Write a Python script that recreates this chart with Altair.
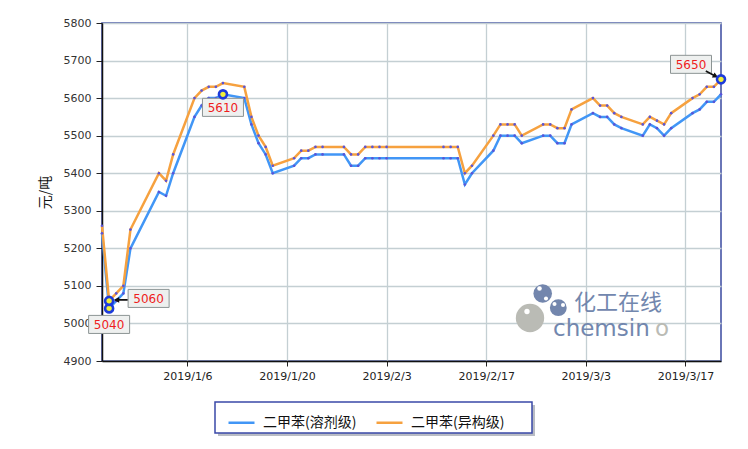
import altair as alt
import pandas as pd

# ---------------- data ----------------
dates = [
    "2018-12-25", "2018-12-26", "2018-12-27", "2018-12-28", "2018-12-29",
    "2019-01-02", "2019-01-03", "2019-01-04",
    "2019-01-07", "2019-01-08", "2019-01-09", "2019-01-10", "2019-01-11",
    "2019-01-14", "2019-01-15", "2019-01-16", "2019-01-17", "2019-01-18",
    "2019-01-21", "2019-01-22", "2019-01-23", "2019-01-24", "2019-01-25",
    "2019-01-28", "2019-01-29", "2019-01-30", "2019-01-31", "2019-02-01",
    "2019-02-02", "2019-02-03",
    "2019-02-11", "2019-02-12", "2019-02-13", "2019-02-14", "2019-02-15",
    "2019-02-18", "2019-02-19", "2019-02-20", "2019-02-21", "2019-02-22",
    "2019-02-25", "2019-02-26", "2019-02-27", "2019-02-28", "2019-03-01",
    "2019-03-04", "2019-03-05", "2019-03-06", "2019-03-07", "2019-03-08",
    "2019-03-11", "2019-03-12", "2019-03-13", "2019-03-14", "2019-03-15",
    "2019-03-18", "2019-03-19", "2019-03-20", "2019-03-21", "2019-03-22",
]
solvent = [
    5240, 5040, 5060, 5080, 5200,
    5350, 5340, 5400,
    5550, 5580, 5600, 5600, 5610,
    5600, 5530, 5480, 5450, 5400,
    5420, 5440, 5440, 5450, 5450,
    5450, 5420, 5420, 5440, 5440,
    5440, 5440,
    5440, 5440, 5440, 5370, 5400,
    5460, 5500, 5500, 5500, 5480,
    5500, 5500, 5480, 5480, 5530,
    5560, 5550, 5550, 5530, 5520,
    5500, 5530, 5520, 5500, 5520,
    5560, 5570, 5590, 5590, 5610,
]
isomer = [
    5260, 5060, 5080, 5100, 5250,
    5400, 5380, 5450,
    5600, 5620, 5630, 5630, 5640,
    5630, 5550, 5500, 5470, 5420,
    5440, 5460, 5460, 5470, 5470,
    5470, 5450, 5450, 5470, 5470,
    5470, 5470,
    5470, 5470, 5470, 5400, 5420,
    5500, 5530, 5530, 5530, 5500,
    5530, 5530, 5520, 5520, 5570,
    5600, 5580, 5580, 5560, 5550,
    5530, 5550, 5540, 5530, 5560,
    5600, 5610, 5630, 5630, 5650,
]
series_names = ["二甲苯(溶剂级)", "二甲苯(异构级)"]
series_colors = ["#4196f6", "#f6a13f"]

ann_dates = ["2018-12-26", "2018-12-26", "2019-01-11", "2019-03-22"]
ann_values = [5040, 5060, 5610, 5650]
ann_labels = ["5040", "5060", "5610", "5650"]

y_ticks = [4900, 5000, 5100, 5200, 5300, 5400, 5500, 5600, 5700, 5800]
x_ticks = [(2019, 1, 6), (2019, 1, 20), (2019, 2, 3), (2019, 2, 17), (2019, 3, 3), (2019, 3, 17)]

# ---------------- styles ----------------
W, H = 619, 338
ann_box_offsets = [(0, 16), (39.5, -2.5), (0, 13), (-30, -15)]
BOX = "M-1,-0.44L1,-0.44L1,0.44L-1,0.44Z"
ARROW = "M-1,0L-0.2,-0.42L-0.2,-0.12L1,-0.12L1,0.12L-0.2,0.12L-0.2,0.42Z"
arrow_specs = {1: (11.5, -1, 0), 3: (-9, -5, 208)}

n = len(dates)
df = pd.DataFrame({
    "date": dates * 2,
    "value": solvent + isomer,
    "series": [series_names[0]] * n + [series_names[1]] * n,
})
ann = pd.DataFrame({"date": ann_dates, "value": ann_values, "label": ann_labels})

def dt(y, m, d):
    return alt.DateTime(year=y, month=m, date=d, utc=True)

x_enc = alt.X(
    "date:T",
    scale=alt.Scale(type="utc", domain=[dt(2018, 12, 25), dt(2019, 3, 22)], nice=False),
    axis=alt.Axis(
        title=None,
        values=[dt(*t) for t in x_ticks],
        labelExpr="utcFormat(datum.value, '%Y/%-m/%-d')",
        labelFont="DejaVu Sans", labelFontSize=11, labelColor="#222",
        labelPadding=4, tickSize=5, tickColor="#222",
        domainColor="#111", domainWidth=1.5,
        gridColor="#c4cfd3", gridWidth=1.3,
    ),
)
y_enc = alt.Y(
    "value:Q",
    scale=alt.Scale(domain=[4900, 5800], nice=False, zero=False),
    axis=alt.Axis(
        values=y_ticks, tickCount=10, format="d", labelOverlap=False,
        title="元/吨", titleFont="Noto Sans CJK SC", titleFontSize=14,
        titleFontWeight="normal", titleColor="#111", titlePadding=11,
        labelFont="DejaVu Sans", labelFontSize=11, labelColor="#333",
        labelPadding=5, tickSize=6, tickColor="#222",
        domainColor="#111", domainWidth=1.5,
        gridColor="#c4cfd3", gridWidth=1.3,
    ),
)

base = alt.Chart(df)
lines = base.mark_line(strokeWidth=2.5).encode(
    x=x_enc, y=y_enc,
    color=alt.Color(
        "series:N",
        scale=alt.Scale(domain=series_names, range=series_colors),
        sort=series_names,
        legend=alt.Legend(
            title=None, orient="none", legendX=123, legendY=383,
            direction="horizontal", symbolType="stroke", symbolSize=676,
            symbolStrokeWidth=2.5, labelFont="Noto Sans CJK SC", labelFontSize=14,
            labelColor="#111", labelOffset=7, columnPadding=14,
            padding=2,
        ),
    ),
)
dots = base.mark_point(filled=True, size=7, color="#5a54d8", opacity=1).encode(
    x=x_enc, y=y_enc, detail="series:N"
)

layers = [lines, dots]
for i in range(len(ann_labels)):
    one = alt.Chart(ann.iloc[[i]])
    dx, dy = ann_box_offsets[i]
    w = 41
    layers.append(one.mark_point(
        shape=BOX, size=w * w, filled=True, fill="#eef0ef", fillOpacity=1,
        stroke="#8c9494", strokeWidth=1, opacity=1, xOffset=dx, yOffset=dy,
    ).encode(x=x_enc, y=y_enc))
    layers.append(one.mark_text(
        dx=dx, dy=dy + 0.5, color="#ee1d1d", font="DejaVu Sans", fontSize=12,
        align="center", baseline="middle",
    ).encode(x=x_enc, y=y_enc, text="label:N"))
    if i in arrow_specs:
        ax, ay, ang = arrow_specs[i]
        layers.append(one.mark_point(
            shape=ARROW, size=196, filled=True, fill="#111", opacity=1,
            xOffset=ax, yOffset=ay, angle=ang,
        ).encode(x=x_enc, y=y_enc))

markers = alt.Chart(ann).mark_point(
    shape="circle", size=64, filled=True, fill="#f0f03a", fillOpacity=1,
    stroke="#1d3bdb", strokeWidth=2.6, opacity=1,
).encode(x=x_enc, y=y_enc)
layers.append(markers)

# decorations: watermark and legend frame (pixel positions, plot-relative)
deco = pd.DataFrame({"k": [0]})
OX, OY = 102, 23

def wm_circle(cx, cy, r, color):
    return alt.Chart(deco).mark_point(
        shape="circle", filled=True, fill=color, fillOpacity=1, opacity=1,
        size=3.1416 * r * r,
    ).encode(x=alt.value(cx - OX), y=alt.value(cy - OY))

def wm_text(tx, ty, txt, color, size, font):
    return alt.Chart(deco).mark_text(
        text=txt, color=color, fontSize=size, font=font, align="left", baseline="alphabetic",
    ).encode(x=alt.value(tx - OX), y=alt.value(ty - OY))

def frame(x1, y1, x2, y2, fill, stroke=None, sw=0):
    kw = dict(fill=fill, opacity=1)
    if stroke:
        kw.update(stroke=stroke, strokeWidth=sw)
    return alt.Chart(deco).mark_rect(**kw).encode(
        x=alt.value(x1 - OX), x2=alt.value(x2 - OX),
        y=alt.value(y1 - OY), y2=alt.value(y2 - OY),
    )

water = [
    wm_circle(530, 318, 16, "#babbb5"),
    wm_circle(542.7, 293.5, 10.5, "#7386ad"),
    wm_circle(558.3, 307.7, 9.5, "#7386ad"),
    wm_circle(527, 311.5, 3, "#ffffff"),
    wm_circle(539.5, 288.5, 2.6, "#ffffff"),
    wm_circle(546, 298.5, 2.3, "#ffffff"),
    wm_circle(554.5, 304, 2.3, "#ffffff"),
    wm_circle(563, 305, 2.3, "#ffffff"),
    wm_text(574, 310, "化工在线", "#7287ae", 22, "Noto Sans CJK SC"),
    wm_text(553, 336, "chemsin", "#7287ae", 23, "DejaVu Sans"),
    wm_text(655, 336, "o", "#babbb5", 23, "DejaVu Sans"),
]
legend_box = [
    frame(218, 405, 535, 436, "#b9bcc4"),
    frame(215, 402, 532, 433, "#ffffff", "#3a48a8", 1.5),
]

chart = alt.layer(*water, *legend_box, *layers).properties(
    width=W, height=H,
    autosize=alt.AutoSizeParams(type="none"),
    padding={"left": 94, "top": 15, "right": 19, "bottom": 85},
    background="white",
).configure_view(stroke="#3a4aa0", strokeWidth=1.5)

chart.save("out.html", embed_options={"renderer": "svg", "actions": False})
